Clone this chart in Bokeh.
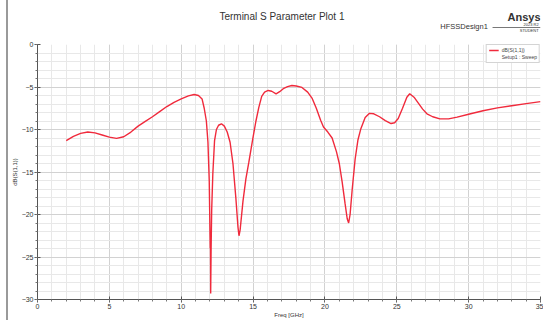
from bokeh.plotting import figure
from bokeh.models import (Range1d, SingleIntervalTicker, Label, Div,
                          Legend, LegendItem, ColumnDataSource)
from bokeh.layouts import row, column
from bokeh.embed import file_html
from bokeh.resources import INLINE

# ---- data ----
freq_ghz = [2.0, 2.5, 3.0, 3.5, 4.0, 4.5, 5.0, 5.5, 6.0, 6.5, 7.0, 7.5, 8.0, 8.5,
            9.0, 9.5, 10.0, 10.5, 10.9, 11.2, 11.45, 11.6, 11.75, 11.86, 11.95,
            12.0, 12.02, 12.035, 12.05, 12.08, 12.12, 12.2, 12.32, 12.45, 12.6,
            12.8, 13.0, 13.2, 13.4, 13.6, 13.8, 13.95, 14.02, 14.1, 14.3, 14.5,
            14.7, 15.0, 15.2, 15.4, 15.6, 15.8, 16.05, 16.3, 16.6, 16.85, 17.1,
            17.4, 17.7, 18.0, 18.4, 18.8, 19.1, 19.4, 19.7, 19.9, 20.2, 20.5,
            20.8, 21.0, 21.2, 21.4, 21.55, 21.65, 21.75, 21.9, 22.1, 22.3, 22.5,
            22.8, 23.1, 23.4, 23.8, 24.2, 24.6, 24.85, 25.1, 25.4, 25.7, 25.9,
            26.2, 26.5, 26.8, 27.1, 27.5, 28.0, 28.6, 29.2, 30.0, 31.0, 32.0,
            33.0, 34.0, 35.0]
s11_db = [-11.3, -10.8, -10.45, -10.3, -10.4, -10.65, -10.9, -11.05, -10.85, -10.3,
          -9.6, -9.05, -8.5, -7.9, -7.3, -6.8, -6.4, -6.05, -5.88, -6.0, -6.4,
          -7.5, -9.0, -11.5, -16.0, -22.0, -24.0, -23.0, -29.3, -24.0, -19.5,
          -15.2, -11.3, -10.0, -9.5, -9.33, -9.6, -10.3, -11.5, -14.0, -18.0,
          -21.5, -22.5, -21.8, -18.4, -15.8, -13.9, -10.9, -9.0, -7.4, -6.1,
          -5.6, -5.41, -5.5, -5.8, -5.55, -5.2, -4.95, -4.82, -4.88, -5.05,
          -5.6, -6.3, -7.5, -8.9, -9.7, -10.3, -11.0, -12.6, -14.0, -16.2,
          -18.7, -20.5, -21.0, -20.0, -17.0, -13.5, -11.2, -9.9, -8.6, -8.1,
          -8.15, -8.5, -8.95, -9.3, -9.2, -8.7, -7.5, -6.2, -5.8, -6.2, -6.9,
          -7.6, -8.15, -8.5, -8.75, -8.75, -8.55, -8.2, -7.8, -7.45, -7.2,
          -6.95, -6.72]

title_text = "Terminal S Parameter Plot 1"
x_label = "Freq [GHz]"
y_label = "dB(S(1,1))"
series_name = "dB(S(1,1))"
setup_name = "Setup1 : Sweep"
design_name = "HFSSDesign1"

FONT = "Liberation Sans"
SIDE = 8            # width of the left window-frame strip
W = 543 - SIDE
HEAD = 40           # header height
MAIN_H = 320 - HEAD

# ---- left window-frame strip ----
strip = Div(text="", width=SIDE, height=320,
            styles={"border-right": "2px solid #9a9a9a", "box-sizing": "border-box",
                    "margin": "0", "padding": "0"})

# ---- header with title and branding ----
head = figure(width=W, height=HEAD, output_backend="svg", toolbar_location=None,
              x_range=Range1d(SIDE, 543), y_range=Range1d(HEAD, 0),
              min_border=0, x_axis_type=None, y_axis_type=None)
head.grid.visible = False
head.outline_line_color = None

def hlabel(x, y, text, size, align, style="normal"):
    head.add_layout(Label(x=x, y=y, text=text, text_font=FONT,
                          text_font_size=size, text_font_style=style,
                          text_color="#333333", text_align=align,
                          text_baseline="middle"))

hlabel(268, 16, title_text, "10px", "center")
hlabel(487, 26, design_name, "7.5px", "right")
hlabel(543, 16, "Ansys", "11px", "right", "bold")
hlabel(541, 23.5, "2023 R2", "4px", "right")
hlabel(541, 29.5, "STUDENT", "4px", "right")
head.segment(x0=[492], y0=[27], x1=[543], y1=[27], line_color="#555555",
             line_width=0.8)

# ---- main plot ----
p = figure(width=W, height=MAIN_H, output_backend="svg", toolbar_location=None,
           x_range=Range1d(0, 35), y_range=Range1d(-30, 0),
           min_border_left=37 - SIDE, min_border_right=3, min_border_top=4,
           min_border_bottom=21, background_fill_color="white",
           border_fill_color="white")
p.outline_line_color = None

for ax in (p.xaxis[0], p.yaxis[0]):
    ax.ticker = SingleIntervalTicker(interval=5, num_minor_ticks=5)
    ax.axis_line_color = "#555555"
    ax.major_tick_line_color = "#555555"
    ax.minor_tick_line_color = "#777777"
    ax.major_tick_in = 3
    ax.major_tick_out = 3
    ax.minor_tick_in = 0
    ax.minor_tick_out = 2
    ax.major_label_text_font = FONT
    ax.major_label_text_font_size = "7px"
    ax.major_label_text_color = "#333333"
    ax.axis_label_text_font = FONT
    ax.axis_label_text_font_size = "6px"
    ax.axis_label_text_font_style = "normal"
    ax.axis_label_text_color = "#333333"

p.xaxis.axis_label = x_label
p.xaxis.major_label_standoff = 1
p.xaxis.axis_label_standoff = 0
p.yaxis.axis_label = y_label
p.yaxis.major_label_standoff = 1
p.yaxis.axis_label_standoff = 1

for g in (p.xgrid[0], p.ygrid[0]):
    g.ticker = SingleIntervalTicker(interval=5, num_minor_ticks=5)
    g.grid_line_color = "#d2d2d2"
    g.minor_grid_line_color = "#e8e8e8"

src = ColumnDataSource(dict(f=freq_ghz, s=s11_db))
r = p.line("f", "s", source=src, line_color="#f02a3c", line_width=1.4)
dummy = p.line("f", "s", source=src, line_alpha=0)

leg = Legend(items=[LegendItem(label=series_name, renderers=[r]),
                    LegendItem(label=setup_name, renderers=[dummy])],
             location="top_right", label_text_font=FONT,
             label_text_font_size="5px", label_height=6, glyph_height=6,
             glyph_width=10, padding=2, spacing=1, label_standoff=3,
             border_line_color="#aaaaaa", background_fill_color="white",
             background_fill_alpha=1.0, margin=0)
p.add_layout(leg, "center")

layout = row(strip, column(head, p, spacing=0), spacing=0)
open("out.html", "w").write(file_html(layout, INLINE))
